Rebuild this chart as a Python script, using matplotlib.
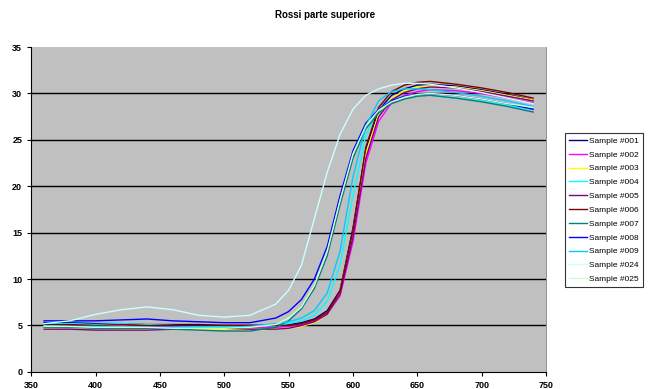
import matplotlib
matplotlib.use("Agg")
import matplotlib.pyplot as plt

plt.rcParams['font.family'] = ['Liberation Sans', 'DejaVu Sans']

# wavelength grid (nm)
wl = [360, 380, 400, 420, 440, 460, 480, 500, 520, 540,
      550, 560, 570, 580, 590, 600, 610, 620, 630, 640, 650, 660,
      680, 700, 720, 740]

s001 = [5.3, 5.3, 5.2, 5.2, 5.1, 5.1, 5.1, 5.0, 5.0, 5.0,
        5.1, 5.3, 5.7, 6.6, 8.8, 15.5, 24.0, 28.2, 29.8, 30.5, 30.9, 31.0,
        30.8, 30.4, 29.9, 29.3]
s002 = [5.0, 5.1, 5.0, 5.0, 4.9, 4.9, 4.8, 4.8, 4.8, 4.8,
        4.9, 5.1, 5.5, 6.3, 8.2, 14.0, 22.5, 27.0, 29.0, 29.8, 30.2, 30.4,
        30.3, 30.0, 29.5, 29.0]
s003 = [4.7, 4.8, 4.7, 4.6, 4.6, 4.6, 4.6, 4.6, 4.5, 4.6,
        4.7, 4.9, 5.3, 6.2, 8.6, 15.0, 23.5, 27.8, 29.5, 30.3, 30.7, 30.8,
        30.7, 30.3, 29.8, 29.3]
s004 = [5.2, 5.2, 5.1, 5.2, 5.1, 5.0, 4.9, 4.9, 4.9, 5.0,
        5.2, 5.5, 6.1, 7.6, 11.5, 19.0, 25.5, 28.3, 29.3, 29.7, 29.8, 29.8,
        29.5, 29.2, 28.7, 28.3]
s005 = [4.6, 4.6, 4.5, 4.5, 4.5, 4.6, 4.7, 4.7, 4.6, 4.6,
        4.7, 5.0, 5.4, 6.2, 8.4, 14.5, 23.0, 27.5, 29.3, 30.1, 30.5, 30.7,
        30.6, 30.2, 29.7, 29.2]
s006 = [5.1, 5.1, 5.0, 5.1, 5.0, 5.0, 5.0, 5.0, 5.0, 5.0,
        5.0, 5.2, 5.6, 6.4, 8.7, 15.2, 24.2, 28.5, 30.2, 30.9, 31.2, 31.3,
        31.0, 30.6, 30.1, 29.5]
s007 = [4.8, 4.8, 4.7, 4.7, 4.7, 4.6, 4.5, 4.4, 4.4, 4.8,
        5.5, 6.8, 9.0, 12.5, 18.0, 23.0, 26.2, 27.9, 28.9, 29.4, 29.7, 29.8,
        29.5, 29.1, 28.6, 28.0]
s008 = [5.5, 5.5, 5.5, 5.6, 5.7, 5.5, 5.4, 5.3, 5.3, 5.8,
        6.5, 7.8, 10.0, 13.5, 19.0, 23.8, 26.8, 28.3, 29.2, 29.7, 29.9, 30.0,
        29.8, 29.4, 28.9, 28.3]
s009 = [5.0, 4.9, 4.9, 4.9, 4.8, 4.8, 4.8, 4.8, 4.9, 5.2,
        5.4, 5.8, 6.6, 8.5, 13.0, 21.0, 26.5, 29.2, 30.2, 30.5, 30.5, 30.4,
        30.1, 29.7, 29.2, 28.6]
s024 = [5.2, 5.5, 6.2, 6.7, 7.0, 6.7, 6.1, 5.9, 6.1, 7.3,
        8.8, 11.5, 16.5, 21.5, 25.6, 28.3, 29.8, 30.5, 30.9, 31.1, 31.1, 31.0,
        30.6, 30.1, 29.5, 28.9]
s025 = [4.9, 4.9, 4.8, 4.8, 4.8, 4.7, 4.7, 4.7, 4.8, 5.1,
        5.8, 7.0, 9.3, 13.0, 18.5, 23.5, 26.5, 28.2, 29.1, 29.6, 29.9, 30.0,
        29.8, 29.4, 28.9, 28.5]

names = ['Sample #001', 'Sample #002', 'Sample #003', 'Sample #004',
         'Sample #005', 'Sample #006', 'Sample #007', 'Sample #008',
         'Sample #009', 'Sample #024', 'Sample #025']
series = [s001, s002, s003, s004, s005, s006, s007, s008, s009, s024, s025]
colors = ['#000080', '#FF00FF', '#FFFF00', '#00FFFF', '#800080', '#800000',
          '#008080', '#0000FF', '#00CCFF', '#CCFFFF', '#CCFFCC']

fig = plt.figure(figsize=(6.5, 3.89), dpi=100)
ax = fig.add_axes([0.048, 0.044, 0.792, 0.835])
ax.set_facecolor('#C0C0C0')

for vals, c, n in zip(series, colors, names):
    ax.plot(wl, vals, color=c, lw=1.0, label=n)

ax.set_xlim(350, 750)
ax.set_ylim(0, 35)
ax.set_xticks(range(350, 751, 50))
ax.set_yticks(range(0, 36, 5))
for y in range(5, 35, 5):
    ax.axhline(y, color='black', lw=1.0, zorder=0.5)

ax.tick_params(axis='both', labelsize=6.5, length=3, width=0.8, direction='out')
for lab in ax.get_xticklabels() + ax.get_yticklabels():
    lab.set_fontweight('bold')
ax.spines['left'].set_color('black')
ax.spines['bottom'].set_color('black')
ax.spines['top'].set_visible(False)
ax.spines['right'].set_color('#808080')
ax.spines['right'].set_linewidth(0.6)

fig.suptitle('Rossi parte superiore', x=0.5, y=0.975, fontsize=7,
             fontweight='bold')

leg = fig.legend(loc='center left', bbox_to_anchor=(0.869, 0.46),
                 fontsize=6, frameon=True, fancybox=False,
                 handlelength=2.2, handletextpad=0.3, labelspacing=0.72,
                 borderpad=0.45, borderaxespad=0)
leg.get_frame().set_edgecolor('black')
leg.get_frame().set_linewidth(0.8)

fig.savefig('out.png', dpi=100)
